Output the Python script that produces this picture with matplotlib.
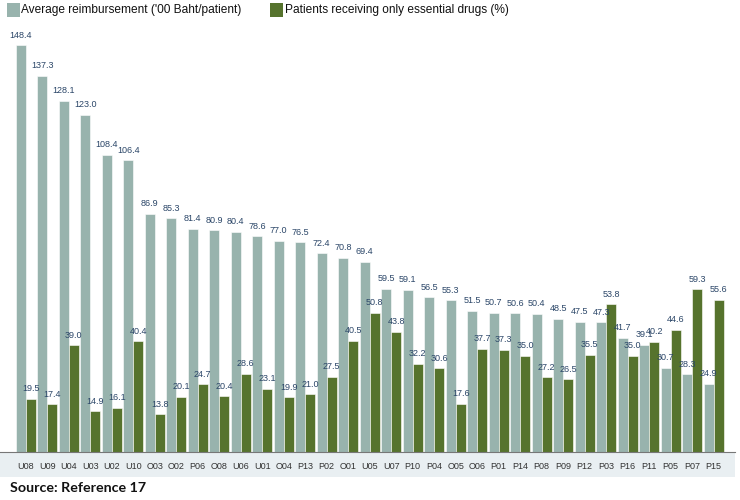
import matplotlib
matplotlib.use("Agg")
import matplotlib.pyplot as plt
import numpy as np
from matplotlib.patches import Rectangle

# data
units = ["U08", "U09", "U04", "U03", "U02", "U10", "O03", "O02", "P06", "O08", "U06",
         "U01", "O04", "P13", "P02", "O01", "U05", "U07", "P10", "P04", "O05", "O06",
         "P01", "P14", "P08", "P09", "P12", "P03", "P16", "P11", "P05", "P07", "P15"]
reimbursement = [148.4, 137.3, 128.1, 123.0, 108.4, 106.4, 86.9, 85.3, 81.4, 80.9, 80.4,
                 78.6, 77.0, 76.5, 72.4, 70.8, 69.4, 59.5, 59.1, 56.5, 55.3, 51.5,
                 50.7, 50.6, 50.4, 48.5, 47.5, 47.3, 41.7, 39.1, 30.7, 28.3, 24.9]
essential = [19.5, 17.4, 39.0, 14.9, 16.1, 40.4, 13.8, 20.1, 24.7, 20.4, 28.6,
             23.1, 19.9, 21.0, 27.5, 40.5, 50.8, 43.8, 32.2, 30.6, 17.6, 37.7,
             37.3, 35.0, 27.2, 26.5, 35.5, 53.8, 35.0, 40.2, 44.6, 59.3, 55.6]

grey = "#98b3ad"
green = "#56732d"
label_col = "#2b4668"

W, H = 740, 500
fig = plt.figure(figsize=(W / 100, H / 100), dpi=100)

# light band behind the category labels
fig.patches.append(Rectangle((0, 23 / H), 735 / W, 25 / H, transform=fig.transFigure,
                             facecolor="#e9eff2", edgecolor="none", zorder=-1))

ax = fig.add_axes([0, 48 / H, 735 / W, 422 / H])
ax.set_facecolor("none")

x = np.arange(len(units))
w = 0.47
b1 = ax.bar(x - w / 2, reimbursement, w, color=grey, edgecolor="white", linewidth=0.4)
b2 = ax.bar(x + w / 2, essential, w, color=green, edgecolor="white", linewidth=0.4)

for bars, vals in ((b1, reimbursement), (b2, essential)):
    for r, v in zip(bars, vals):
        ax.annotate(f"{v:.1f}", (r.get_x() + r.get_width() / 2, v), xytext=(0, 4),
                    textcoords="offset points", ha="center", va="bottom",
                    fontsize=6.5, color=label_col, family="Liberation Sans")

ax.set_xlim(-25.7 / 21.5, (735 - 25.7) / 21.5)
ax.set_ylim(0, 153.9)
ax.set_xticks(x)
ax.set_xticklabels(units, fontsize=6.5, color="#333333", family="Liberation Sans")
ax.tick_params(axis="x", length=0, pad=7)
ax.set_yticks([])
for s in ("top", "right", "left"):
    ax.spines[s].set_visible(False)
ax.spines["bottom"].set_color("#777777")
ax.spines["bottom"].set_linewidth(0.8)

# legend at the top
fig.patches.append(Rectangle((7 / W, 1 - 17 / H), 13 / W, 14 / H, transform=fig.transFigure,
                             facecolor=grey, edgecolor="none"))
fig.text(21 / W, 1 - 10 / H, "Average reimbursement ('00 Baht/patient)", fontsize=8.6,
         va="center", ha="left", family="Liberation Sans", color="#111111")
fig.patches.append(Rectangle((270 / W, 1 - 17 / H), 13 / W, 14 / H, transform=fig.transFigure,
                             facecolor=green, edgecolor="none"))
fig.text(285 / W, 1 - 10 / H, "Patients receiving only essential drugs (%)", fontsize=8.6,
         va="center", ha="left", family="Liberation Sans", color="#111111")

fig.text(10 / W, 1 - 488 / H, "Source: Reference 17", fontsize=10.3, fontweight="bold",
         va="center", ha="left", family="Lato", color="#111111")

fig.savefig("out.png", dpi=100)
